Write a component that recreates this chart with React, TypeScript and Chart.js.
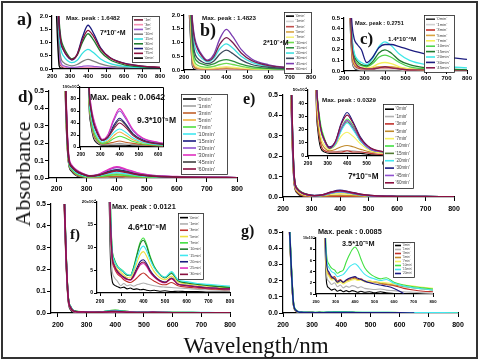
import React, { useEffect, useRef } from "react";
import { Chart, registerables } from "chart.js";

Chart.register(...registerables);
Chart.defaults.font.family = '"Liberation Sans", Arial, sans-serif';

// ---------- wavelength grids (nm) ----------
const WL_MAIN = [222, 230, 240, 250, 265, 285, 310, 340, 370, 400, 430, 470, 520, 600, 700, 800];
const WL_NOISY = [220, 228, 236, 245, 255, 265, 280, 295, 310, 325, 340, 355, 370, 385, 400, 415, 430, 450, 475, 500, 530, 560, 600, 650, 700, 750, 800];

// ---------- tick labels ----------
const X_TICKS = [200, 300, 400, 500, 600, 700, 800];
const X_TICKS_D_INSET = [200, 300, 400, 500, 600];
const X_TICKS_E_INSET = [200, 300, 400, 500, 600];
const Y_TICKS_AB = [0, 0.5, 1, 1.5, 2];
const Y_TICKS_C = [0, 0.1, 0.2, 0.3, 0.4, 0.5];
const Y_TICKS_MAIN_MILLI = [0, 100, 200, 300, 400, 500];
const Y_TICKS_D_INSET = [0, 20, 40, 60, 80, 100];
const Y_TICKS_E_INSET = [0, 10, 20, 30, 40, 50];
const Y_TICKS_F_INSET = [0, 5, 10, 15, 20];
const Y_TICKS_G_INSET = [0, 2, 4, 6, 8, 10];

// ---------- panel a (absorbance) ----------
const A_LABELS = ["'1m'", "'3m'", "'5m'", "'10m'", "'15m'", "'30m'", "'60m'", "'75m'", "'0min'"];
const A_COLORS = ["#7b1b3b", "#f48fb1", "#9b59d0", "#7f7f7f", "#33e0e0", "#1f7a2e", "#1a1a7e", "#8a0f3c", "#000000"];
const A_1m = [3.0, 2.4, 0.45, 0.12, 0.05, 0.03, 0.02, 0.02, 0.02, 0.03, 0.02, 0.02, 0.01, 0.01, 0.01, 0.0];
const A_3m = [3.0, 2.5, 0.55, 0.16, 0.07, 0.05, 0.04, 0.04, 0.05, 0.06, 0.05, 0.04, 0.03, 0.02, 0.01, 0.01];
const A_5m = [3.0, 2.6, 0.7, 0.24, 0.12, 0.08, 0.06, 0.07, 0.1, 0.12, 0.1, 0.07, 0.05, 0.03, 0.02, 0.01];
const A_10m = [3.0, 2.7, 0.95, 0.4, 0.24, 0.16, 0.12, 0.17, 0.29, 0.36, 0.3, 0.19, 0.11, 0.06, 0.03, 0.02];
const A_15m = [3.0, 2.8, 1.3, 0.72, 0.48, 0.32, 0.24, 0.33, 0.6, 0.74, 0.62, 0.38, 0.21, 0.1, 0.05, 0.03];
const A_30m = [3.0, 2.9, 1.8, 1.15, 0.82, 0.56, 0.38, 0.52, 1.02, 1.33, 1.1, 0.66, 0.36, 0.16, 0.08, 0.05];
const A_60m = [3.0, 2.9, 1.6, 0.98, 0.7, 0.48, 0.34, 0.56, 1.22, 1.65, 1.36, 0.8, 0.44, 0.22, 0.11, 0.06];
const A_75m = [3.0, 2.9, 1.6, 1.0, 0.72, 0.5, 0.36, 0.55, 1.12, 1.46, 1.24, 0.76, 0.43, 0.21, 0.11, 0.06];
const A_0min = [2.6, 1.2, 0.12, 0.03, 0.01, 0.01, 0.01, 0.01, 0.01, 0.01, 0.01, 0.01, 0.01, 0.0, 0.0, 0.0];

// ---------- panel b ----------
const B_LABELS = ["'0min'", "'1min'", "'3min'", "'5min'", "'7min'", "'10min'", "'15min'", "'20min'", "'30min'", "'45min'", "'60min'"];
const B_COLORS = ["#000000", "#d0d0d0", "#c0504d", "#d9a441", "#f5f07a", "#6fdc4f", "#2f8f3f", "#3fe0e0", "#3c4a5c", "#7a3bb0", "#7a1f4f"];
const B_0 = [2.6, 1.3, 0.15, 0.04, 0.02, 0.01, 0.01, 0.01, 0.01, 0.01, 0.01, 0.01, 0.01, 0.0, 0.0, 0.0];
const B_1 = [2.8, 1.6, 0.25, 0.07, 0.03, 0.02, 0.02, 0.02, 0.02, 0.02, 0.02, 0.01, 0.01, 0.01, 0.0, 0.0];
const B_3 = [2.9, 1.8, 0.35, 0.1, 0.05, 0.03, 0.03, 0.03, 0.04, 0.05, 0.04, 0.03, 0.02, 0.01, 0.01, 0.0];
const B_5 = [2.9, 2.0, 0.45, 0.14, 0.07, 0.05, 0.04, 0.05, 0.07, 0.08, 0.07, 0.05, 0.03, 0.02, 0.01, 0.01];
const B_7 = [3.0, 2.1, 0.55, 0.2, 0.1, 0.07, 0.06, 0.07, 0.1, 0.12, 0.1, 0.07, 0.04, 0.02, 0.01, 0.01];
const B_10 = [3.0, 2.3, 0.75, 0.3, 0.17, 0.12, 0.1, 0.13, 0.2, 0.24, 0.2, 0.13, 0.07, 0.04, 0.02, 0.01];
const B_15 = [3.0, 2.5, 1.0, 0.48, 0.3, 0.22, 0.17, 0.22, 0.33, 0.38, 0.32, 0.21, 0.12, 0.06, 0.03, 0.02];
const B_20 = [3.0, 2.8, 1.5, 0.9, 0.6, 0.42, 0.3, 0.42, 0.78, 0.95, 0.8, 0.5, 0.28, 0.13, 0.06, 0.04];
const B_30 = [3.0, 2.6, 1.2, 0.65, 0.42, 0.3, 0.23, 0.32, 0.58, 0.72, 0.6, 0.37, 0.2, 0.1, 0.05, 0.03];
const B_45 = [3.0, 2.9, 1.8, 1.2, 0.82, 0.55, 0.36, 0.56, 1.15, 1.48, 1.22, 0.75, 0.4, 0.19, 0.09, 0.06];
const B_60 = [3.0, 2.9, 1.7, 1.1, 0.75, 0.5, 0.33, 0.48, 0.95, 1.18, 1.0, 0.62, 0.34, 0.16, 0.08, 0.05];

// ---------- panel c ----------
const C_LABELS = ["'0min'", "'1min'", "'3min'", "'5min'", "'7min'", "'10min'", "'15min'", "'20min'", "'30min'", "'45min'"];
const C_COLORS = ["#333333", "#d0d0d0", "#c0302a", "#d9a441", "#f5f05a", "#4fd44f", "#1f7a2e", "#40e8e8", "#1c1c80", "#8a2050"];
const C_0 = [0.9, 0.45, 0.1, 0.03, 0.01, 0.0, 0.0, 0.0, 0.0, 0.0, 0.0, 0.0, 0.0, 0.0, 0.0, 0.0];
const C_1 = [0.9, 0.5, 0.12, 0.04, 0.02, 0.01, 0.01, 0.01, 0.01, 0.01, 0.01, 0.01, 0.0, 0.0, 0.0, 0.0];
const C_3 = [0.9, 0.52, 0.14, 0.06, 0.03, 0.02, 0.02, 0.02, 0.03, 0.03, 0.03, 0.02, 0.01, 0.01, 0.0, 0.0];
const C_5 = [0.9, 0.55, 0.16, 0.07, 0.04, 0.03, 0.02, 0.03, 0.04, 0.04, 0.04, 0.03, 0.02, 0.01, 0.01, 0.0];
const C_7 = [0.9, 0.58, 0.2, 0.09, 0.05, 0.03, 0.03, 0.04, 0.07, 0.08, 0.07, 0.04, 0.02, 0.01, 0.01, 0.0];
const C_10 = [0.9, 0.6, 0.24, 0.12, 0.07, 0.05, 0.04, 0.07, 0.13, 0.15, 0.13, 0.08, 0.04, 0.02, 0.01, 0.01];
const C_15 = [0.9, 0.62, 0.28, 0.15, 0.09, 0.06, 0.05, 0.09, 0.17, 0.2, 0.17, 0.1, 0.06, 0.03, 0.02, 0.01];
const C_20 = [0.9, 0.65, 0.3, 0.17, 0.11, 0.08, 0.06, 0.12, 0.23, 0.275, 0.24, 0.16, 0.1, 0.06, 0.04, 0.03];
const C_30 = [0.9, 0.7, 0.42, 0.3, 0.25, 0.2, 0.08, 0.13, 0.22, 0.25, 0.25, 0.23, 0.2, 0.16, 0.13, 0.11];
const C_45 = [0.9, 0.6, 0.22, 0.1, 0.05, 0.03, 0.02, 0.02, 0.03, 0.04, 0.03, 0.02, 0.01, 0.01, 0.0, 0.0];

// ---------- panel d (milli-absorbance) ----------
const D_LABELS = ["'0min'", "'1min'", "'3min'", "'5min'", "'7min'", "'10min'", "'15min'", "'20min'", "'30min'", "'45min'", "'60min'"];
const D_COLORS = ["#000000", "#a0a0a0", "#c0602a", "#f0b040", "#50e040", "#40e8f0", "#1a1a80", "#9050d0", "#e030c0", "#404040", "#8a1040"];
const D_0 = [1200, 450, 90, 40, 15, 6, 3, 3, 3, 3, 3, 2, 2, 1, 1, 1];
const D_1 = [1200, 470, 95, 45, 18, 8, 4, 4, 5, 6, 5, 4, 3, 2, 1, 1];
const D_3 = [1200, 480, 100, 50, 22, 10, 5, 6, 8, 10, 8, 6, 4, 2, 1, 1];
const D_5 = [1300, 500, 100, 55, 28, 14, 7, 10, 19, 25, 20, 12, 7, 4, 2, 1];
const D_7 = [1300, 500, 100, 52, 26, 12, 6, 8, 14, 18, 15, 9, 5, 3, 2, 1];
const D_10 = [1300, 520, 110, 58, 32, 17, 8, 13, 24, 30, 25, 15, 8, 4, 2, 1];
const D_15 = [1400, 550, 120, 65, 40, 22, 11, 17, 36, 48, 39, 22, 12, 6, 3, 2];
const D_20 = [1500, 580, 130, 72, 45, 26, 12, 20, 44, 60, 48, 27, 14, 7, 4, 2];
const D_30 = [1500, 600, 140, 75, 48, 28, 13, 21, 47, 64, 51, 29, 15, 8, 4, 2];
const D_45 = [1400, 560, 120, 68, 42, 24, 11, 17, 33, 45, 37, 21, 11, 6, 3, 2];
const D_60 = [1400, 550, 120, 66, 40, 23, 11, 16, 30, 40, 33, 19, 10, 5, 3, 2];

// ---------- panel e (milli-absorbance) ----------
const E_LABELS = ["'0min'", "'1min'", "'3min'", "'5min'", "'7min'", "'10min'", "'15min'", "'20min'", "'30min'", "'45min'", "'60min'"];
const E_COLORS = ["#000000", "#b0b0b0", "#c0302a", "#c08a2a", "#f5f060", "#40e040", "#507a30", "#40e8f0", "#1a1a80", "#9050d0", "#8a1040"];
const E_0 = [1000, 400, 60, 20, 6, 3, 2, 2, 2, 2, 2, 2, 1, 1, 1, 0];
const E_1 = [1000, 420, 65, 25, 9, 4, 3, 3, 4, 4, 4, 3, 2, 1, 1, 0];
const E_3 = [1000, 420, 65, 25, 9, 4, 3, 3, 3, 4, 3, 3, 2, 1, 1, 0];
const E_5 = [1100, 440, 70, 28, 12, 6, 4, 5, 7, 8, 7, 5, 3, 2, 1, 0];
const E_7 = [1100, 460, 75, 32, 15, 8, 5, 8, 15, 18, 15, 9, 4, 2, 1, 1];
const E_10 = [1200, 500, 90, 42, 24, 13, 6, 10, 21, 28, 23, 12, 5, 3, 2, 1];
const E_15 = [1200, 490, 85, 40, 21, 11, 6, 9, 20, 26, 21, 11, 5, 3, 2, 1];
const E_20 = [1200, 490, 85, 38, 20, 11, 6, 9, 19, 25, 20, 11, 5, 3, 2, 1];
const E_30 = [1300, 520, 90, 40, 21, 12, 7, 11, 25, 32.9, 26, 14, 6, 3, 2, 1];
const E_45 = [1200, 500, 85, 38, 20, 11, 6, 10, 21, 27, 22, 12, 5, 3, 2, 1];
const E_60 = [1300, 520, 90, 40, 21, 12, 6, 11, 24, 31, 25, 13, 6, 3, 2, 1];

// ---------- panel f (milli-absorbance) ----------
const F_LABELS = ["'0min'", "'1min'", "'3min'", "'5min'", "'7min'", "'10min'", "'15min'", "'20min'", "'25min'", "'30min'"];
const F_COLORS = ["#000000", "#b0b0b0", "#c0302a", "#f0e040", "#40e040", "#1f7a2e", "#40e8f0", "#1a1a80", "#e030c0", "#8a1040"];
const F_0 = [600, 260, 60, 14, 3.0, 1.8, 1.4, 1.1, 1.3, 0.9, 1.1, 0.8, 0.9, 0.7, 0.8, 0.6, 0.5, 0.6, 0.4, 0.5, 0.3, 0.4, 0.3, 0.3, 0.2, 0.2, 0.2];
const F_1 = [610, 270, 64, 18, 5.5, 3.5, 2.6, 1.6, 2.1, 1.6, 1.8, 1.5, 1.8, 2.0, 2.2, 2.0, 1.8, 1.6, 1.4, 1.3, 1.2, 1.1, 1.0, 0.8, 0.7, 0.6, 0.5];
const F_3 = [620, 275, 66, 22, 8.0, 5.6, 4.2, 3.6, 2.9, 2.5, 2.3, 2.7, 3.3, 4.0, 4.4, 3.9, 3.2, 2.6, 2.0, 1.8, 2.3, 1.6, 1.3, 1.1, 0.9, 0.8, 0.7];
const F_5 = [640, 285, 70, 25, 9.5, 6.8, 5.2, 4.6, 3.9, 3.4, 3.3, 4.6, 6.6, 8.4, 9.1, 8.1, 6.4, 4.7, 3.4, 2.9, 3.7, 2.4, 2.0, 1.7, 1.5, 1.3, 1.1];
const F_7 = [660, 295, 74, 28, 10.5, 7.6, 6.0, 5.3, 4.7, 4.0, 3.9, 5.7, 8.5, 11.1, 12.1, 10.7, 8.3, 5.9, 4.2, 3.4, 4.5, 2.8, 2.3, 2.0, 1.7, 1.5, 1.3];
const F_10 = [660, 295, 74, 27, 10.2, 7.4, 5.8, 5.1, 4.5, 3.9, 3.8, 5.5, 8.2, 10.7, 11.6, 10.3, 8.0, 5.7, 4.1, 3.3, 4.3, 2.7, 2.2, 1.9, 1.6, 1.4, 1.2];
const F_15 = [650, 290, 72, 27, 10.0, 7.2, 5.8, 5.2, 4.6, 4.1, 3.9, 5.2, 7.5, 9.5, 10.3, 9.3, 7.4, 5.5, 4.1, 3.5, 4.7, 2.9, 2.5, 2.1, 1.9, 1.7, 1.5];
const F_20 = [640, 285, 70, 24, 8.8, 6.2, 4.8, 4.1, 3.5, 3.1, 2.9, 3.9, 5.5, 6.9, 7.3, 6.5, 5.1, 3.8, 2.8, 2.4, 3.3, 2.0, 1.7, 1.4, 1.2, 1.0, 0.9];
const F_25 = [635, 280, 69, 23, 8.5, 6.0, 4.6, 3.9, 3.3, 2.9, 2.8, 3.5, 4.9, 6.1, 6.5, 5.8, 4.6, 3.5, 2.6, 2.2, 3.1, 1.9, 1.6, 1.3, 1.1, 1.0, 0.9];
const F_30 = [638, 282, 70, 23, 8.6, 6.1, 4.7, 4.0, 3.4, 3.0, 2.9, 3.7, 5.1, 6.4, 6.8, 6.1, 4.8, 3.6, 2.7, 2.3, 3.2, 1.9, 1.6, 1.3, 1.1, 1.0, 0.9];

// ---------- panel g (milli-absorbance) ----------
const G_LABELS = ["'0min'", "'1min'", "'3min'", "'5min'", "'7min'", "'10min'", "'15min'", "'20min'"];
const G_COLORS = ["#000000", "#b0b0b0", "#c0302a", "#c08a2a", "#f5f060", "#40e040", "#40e8f0", "#1a1a80"];
const G_0 = [600, 280, 50, 12, 1.8, 1.1, 0.7, 0.9, 0.5, 0.7, 0.4, 0.6, 0.4, 0.6, 0.5, 0.3, 0.5, 0.3, 0.4, 0.2, 0.4, 0.2, 0.1, 0.0, 0.0, 0.0, 0.0];
const G_1 = [605, 285, 52, 13, 3.2, 2.3, 1.7, 2.0, 1.3, 1.6, 1.1, 1.4, 1.2, 1.5, 1.4, 1.1, 1.3, 1.0, 0.9, 0.8, 0.9, 0.7, 0.6, 0.4, 0.3, 0.2, 0.1];
const G_3 = [610, 290, 55, 14, 4.6, 3.7, 2.9, 3.1, 2.3, 2.6, 2.1, 2.5, 2.7, 2.9, 3.0, 2.6, 2.7, 2.3, 2.1, 2.2, 1.9, 1.7, 1.5, 1.0, 0.7, 0.5, 0.4];
const G_5 = [610, 290, 55, 14, 4.3, 3.4, 2.7, 2.9, 2.1, 2.4, 2.0, 2.3, 2.5, 2.7, 2.8, 2.5, 2.6, 2.2, 2.3, 2.1, 1.9, 1.8, 1.6, 1.3, 1.1, 0.9, 0.7];
const G_7 = [608, 288, 54, 13.5, 4.1, 3.2, 2.5, 2.6, 1.9, 2.1, 1.8, 2.1, 2.3, 2.5, 2.6, 2.4, 2.5, 2.2, 2.3, 2.2, 2.1, 2.0, 1.8, 1.6, 1.4, 1.2, 1.0];
const G_10 = [640, 310, 62, 17, 6.8, 5.4, 4.6, 4.3, 3.7, 4.0, 4.3, 5.7, 6.9, 7.9, 8.4, 7.7, 6.3, 4.7, 3.7, 3.1, 2.7, 2.9, 2.1, 1.6, 1.3, 1.1, 0.9];
const G_15 = [630, 300, 60, 16, 6.0, 4.8, 4.0, 3.7, 3.1, 3.3, 3.5, 4.1, 4.8, 5.2, 5.4, 5.0, 4.3, 3.5, 3.0, 2.7, 2.4, 2.6, 1.9, 1.4, 1.1, 0.9, 0.7];
const G_20 = [620, 295, 58, 15, 5.2, 4.0, 3.1, 2.7, 2.1, 2.4, 2.1, 2.5, 2.8, 3.0, 3.1, 2.8, 2.6, 2.3, 2.0, 1.8, 1.6, 1.4, 1.0, 0.1, null, null, null];

// ---------- types ----------
type Series = { labels: string[]; colors: string[]; values: (number | null)[][]; wl: number[] };
type TextItem = { t: string; x: number; y: number; size: number; serif?: boolean };
type Spec = {
  region: [number, number, number, number];
  plot: [number, number, number, number];
  yw: number;
  xh: number;
  x: { min: number; max: number; ticks: number[] };
  y: { min: number; max: number; ticks: number[]; fmt: (v: number) => string };
  series: Series;
  lw: number;
  font: number;
  tickLen: number;
  xPad: number;
  yPad: number;
  box?: boolean;
  topLabel?: string;
  legend?: { x: number; y: number; w: number; h: number; size: number; line: number };
  texts?: TextItem[];
};

const fmt1 = (v: number) => v.toFixed(1);
const fmtMilli = (v: number) => (v / 1000).toFixed(1);
const fmtInset = (max: number) => (v: number) => (v === max ? "" : String(v));

const SER_A: Series = { labels: A_LABELS, colors: A_COLORS, wl: WL_MAIN, values: [A_1m, A_3m, A_5m, A_10m, A_15m, A_30m, A_60m, A_75m, A_0min] };
const SER_B: Series = { labels: B_LABELS, colors: B_COLORS, wl: WL_MAIN, values: [B_0, B_1, B_3, B_5, B_7, B_10, B_15, B_20, B_30, B_45, B_60] };
const SER_C: Series = { labels: C_LABELS, colors: C_COLORS, wl: WL_MAIN, values: [C_0, C_1, C_3, C_5, C_7, C_10, C_15, C_20, C_30, C_45] };
const SER_D: Series = { labels: D_LABELS, colors: D_COLORS, wl: WL_MAIN, values: [D_0, D_1, D_3, D_5, D_7, D_10, D_15, D_20, D_30, D_45, D_60] };
const SER_E: Series = { labels: E_LABELS, colors: E_COLORS, wl: WL_MAIN, values: [E_0, E_1, E_3, E_5, E_7, E_10, E_15, E_20, E_30, E_45, E_60] };
const SER_F: Series = { labels: F_LABELS, colors: F_COLORS, wl: WL_NOISY, values: [F_0, F_1, F_3, F_5, F_7, F_10, F_15, F_20, F_25, F_30] };
const SER_G: Series = { labels: G_LABELS, colors: G_COLORS, wl: WL_NOISY, values: [G_0, G_1, G_3, G_5, G_7, G_10, G_15, G_20] };

const MAIN_SMALL = { yw: 22, xh: 14, font: 6, tickLen: 3, xPad: 1, yPad: 1, lw: 1.3 };
const MAIN_BIG = { yw: 22, xh: 14, font: 7, tickLen: 4, xPad: 4, yPad: 1, lw: 1.5 };
const INSET = { yw: 16, xh: 11, font: 5, tickLen: 3, xPad: 2, yPad: 1, lw: 1.1 };

const SPECS: Spec[] = [
  {
    ...MAIN_SMALL, region: [0, 0, 172, 88], plot: [52, 16, 160, 69],
    x: { min: 200, max: 800, ticks: X_TICKS }, y: { min: 0, max: 2, ticks: Y_TICKS_AB, fmt: fmt1 },
    series: SER_A,
    legend: { x: 132, y: 16, w: 27, h: 46, size: 3.8, line: 9 },
    texts: [
      { t: "a)", x: 17, y: 20, size: 18, serif: true },
      { t: "Max. peak : 1.6482", x: 66, y: 18, size: 6.2 },
      { t: "7*10⁻⁴M", x: 100, y: 33, size: 7 },
    ],
  },
  {
    ...MAIN_SMALL, region: [155, 0, 165, 88], plot: [184, 15, 311, 70],
    x: { min: 200, max: 800, ticks: X_TICKS }, y: { min: 0, max: 2, ticks: Y_TICKS_AB, fmt: fmt1 },
    series: SER_B,
    legend: { x: 284, y: 12, w: 27, h: 61, size: 3.8, line: 8 },
    texts: [
      { t: "b)", x: 200, y: 31, size: 18, serif: true },
      { t: "Max. peak : 1.4823", x: 202, y: 18, size: 6.2 },
      { t: "2*10⁻⁴M", x: 263, y: 43, size: 7 },
    ],
  },
  {
    ...MAIN_SMALL, region: [318, 0, 162, 88], plot: [344, 18, 467, 71],
    x: { min: 200, max: 800, ticks: X_TICKS }, y: { min: 0, max: 0.5, ticks: Y_TICKS_C, fmt: fmt1 },
    series: SER_C,
    legend: { x: 424, y: 15, w: 30, h: 57, size: 4.2, line: 9 },
    texts: [
      { t: "c)", x: 360, y: 40, size: 17, serif: true },
      { t: "Max. peak : 0.2751", x: 355, y: 23, size: 5.6 },
      { t: "1.4*10⁻⁴M", x: 388, y: 39, size: 6.2 },
    ],
  },
  {
    ...MAIN_BIG, region: [0, 80, 250, 120], plot: [49, 91, 237, 178], xPad: 3,
    x: { min: 175, max: 800, ticks: X_TICKS }, y: { min: 0, max: 500, ticks: Y_TICKS_MAIN_MILLI, fmt: fmtMilli },
    series: SER_D,
  },
  {
    ...INSET, region: [0, 80, 250, 120], plot: [80, 87, 163, 147], box: true, topLabel: "100x10⁻³",
    x: { min: 195, max: 625, ticks: X_TICKS_D_INSET }, y: { min: 0, max: 100, ticks: Y_TICKS_D_INSET, fmt: fmtInset(100) },
    series: SER_D,
    legend: { x: 181, y: 94, w: 46, h: 80, size: 5.6, line: 13 },
    texts: [
      { t: "d)", x: 18, y: 98, size: 17, serif: true },
      { t: "Max. peak : 0.0642", x: 90, y: 98, size: 8.6 },
      { t: "9.3*10⁻⁵M", x: 137, y: 121, size: 8.6 },
    ],
  },
  {
    ...MAIN_BIG, region: [240, 85, 240, 135], plot: [283, 95, 454, 197],
    x: { min: 200, max: 800, ticks: X_TICKS }, y: { min: 0, max: 500, ticks: Y_TICKS_MAIN_MILLI, fmt: fmtMilli },
    series: SER_E,
  },
  {
    ...INSET, region: [240, 85, 240, 135], plot: [308, 90, 396, 156], topLabel: "50x10⁻³",
    x: { min: 200, max: 650, ticks: X_TICKS_E_INSET }, y: { min: 0, max: 50, ticks: Y_TICKS_E_INSET, fmt: fmtInset(50) },
    series: SER_E,
    legend: { x: 383, y: 104, w: 30, h: 84, size: 4.6, line: 9 },
    texts: [
      { t: "e)", x: 243, y: 100, size: 16, serif: true },
      { t: "Max. peak : 0.0329", x: 322, y: 100, size: 6.2 },
      { t: "7*10⁻⁵M", x: 348, y: 177, size: 8.2 },
    ],
  },
  {
    ...MAIN_BIG, region: [0, 195, 250, 140], plot: [51, 204, 230, 313],
    x: { min: 176, max: 800, ticks: X_TICKS }, y: { min: 0, max: 500, ticks: Y_TICKS_MAIN_MILLI, fmt: fmtMilli },
    series: SER_F,
  },
  {
    ...INSET, region: [0, 195, 250, 140], plot: [97, 202, 230, 293], xPad: 3, topLabel: "20x10⁻³",
    x: { min: 186, max: 800, ticks: X_TICKS }, y: { min: 0, max: 20, ticks: Y_TICKS_F_INSET, fmt: fmtInset(20) },
    series: SER_F,
    legend: { x: 178, y: 213, w: 25, h: 66, size: 3.8, line: 8 },
    texts: [
      { t: "f)", x: 70, y: 235, size: 15, serif: true },
      { t: "Max. peak : 0.0121", x: 112, y: 207, size: 7.3 },
      { t: "4.6*10⁻⁵M", x: 128, y: 228, size: 8.4 },
    ],
  },
  {
    ...MAIN_BIG, region: [240, 220, 240, 115], plot: [283, 232, 458, 313],
    x: { min: 200, max: 800, ticks: X_TICKS }, y: { min: 0, max: 500, ticks: Y_TICKS_MAIN_MILLI, fmt: fmtMilli },
    series: SER_G,
  },
  {
    ...INSET, region: [240, 220, 240, 115], plot: [316, 238, 433, 294], font: 4.2, topLabel: "10x10⁻³",
    x: { min: 200, max: 800, ticks: X_TICKS }, y: { min: 0, max: 10, ticks: Y_TICKS_G_INSET, fmt: fmtInset(10) },
    series: SER_G,
    legend: { x: 393, y: 242, w: 21, h: 35, size: 3.1, line: 6 },
    texts: [
      { t: "g)", x: 241, y: 232, size: 16, serif: true },
      { t: "Max. peak : 0.0085", x: 318, y: 232, size: 7.3 },
      { t: "3.5*10⁻⁵M", x: 342, y: 244, size: 7.3 },
    ],
  },
];

function makeDeco(spec: Spec) {
  return {
    id: "deco",
    afterDraw(chart: any) {
      const ctx: CanvasRenderingContext2D = chart.ctx;
      const [cx, cy] = spec.region;
      const a = chart.chartArea;
      ctx.save();
      if (spec.box) {
        ctx.strokeStyle = "#000";
        ctx.lineWidth = 1;
        ctx.beginPath();
        ctx.moveTo(a.left, a.top + 0.5);
        ctx.lineTo(a.right + 0.5, a.top + 0.5);
        ctx.lineTo(a.right + 0.5, a.bottom);
        ctx.stroke();
      }
      if (spec.topLabel) {
        ctx.fillStyle = "#000";
        ctx.font = `bold ${spec.font * 0.85}px "Liberation Sans", Arial, sans-serif`;
        ctx.textAlign = "right";
        ctx.textBaseline = "middle";
        ctx.fillText(spec.topLabel, a.left - 1, a.top);
      }
      if (spec.legend) {
        const L = spec.legend;
        const x = L.x - cx;
        const y = L.y - cy;
        ctx.fillStyle = "#fff";
        ctx.fillRect(x, y, L.w, L.h);
        ctx.strokeStyle = "#222";
        ctx.lineWidth = 0.8;
        ctx.strokeRect(x + 0.5, y + 0.5, L.w, L.h);
        const n = spec.series.labels.length;
        const rowH = (L.h - 3) / n;
        ctx.font = `${L.size}px "Liberation Sans", Arial, sans-serif`;
        ctx.textBaseline = "middle";
        ctx.textAlign = "left";
        spec.series.labels.forEach((lab, i) => {
          const yy = y + 1.5 + rowH * (i + 0.5);
          ctx.strokeStyle = spec.series.colors[i];
          ctx.lineWidth = 1.6;
          ctx.beginPath();
          ctx.moveTo(x + 2, yy);
          ctx.lineTo(x + 2 + L.line, yy);
          ctx.stroke();
          ctx.fillStyle = "#444";
          ctx.fillText(lab, x + 3.5 + L.line, yy);
        });
      }
      (spec.texts || []).forEach((tx) => {
        ctx.fillStyle = "#111";
        ctx.textBaseline = "middle";
        ctx.textAlign = "left";
        ctx.font = tx.serif
          ? `bold ${tx.size}px "Liberation Serif", "Times New Roman", serif`
          : `bold ${tx.size}px "Liberation Sans", Arial, sans-serif`;
        ctx.fillText(tx.t, tx.x - cx, tx.y - cy);
      });
      ctx.restore();
    },
  };
}

function buildConfig(spec: Spec): any {
  const [cx, cy, cw, ch] = spec.region;
  const [L, T, R, B] = spec.plot;
  const n = spec.series.labels.length;
  const datasets = spec.series.labels.map((lab, i) => ({
    label: lab,
    data: spec.series.wl.map((w, j) => ({ x: w, y: spec.series.values[i][j] })),
    borderColor: spec.series.colors[i],
    backgroundColor: spec.series.colors[i],
    borderWidth: spec.lw,
    pointRadius: 0,
    fill: false,
    order: n - i,
    cubicInterpolationMode: "monotone",
    spanGaps: false,
  }));
  const tickFont = { size: spec.font, weight: "bold" as const, family: '"Liberation Sans", Arial, sans-serif' };
  const gridOpt = { display: true, drawOnChartArea: false, drawTicks: true, tickLength: spec.tickLen, color: "#000", lineWidth: 1 };
  const borderOpt = { display: true, color: "#000", width: 1.2 };
  return {
    type: "line",
    data: { datasets },
    options: {
      responsive: false,
      maintainAspectRatio: false,
      animation: false,
      devicePixelRatio: 1,
      events: [],
      layout: {
        padding: {
          left: L - cx - spec.yw,
          top: T - cy,
          right: cx + cw - R,
          bottom: cy + ch - B - spec.xh,
        },
      },
      plugins: { legend: { display: false }, tooltip: { enabled: false }, title: { display: false } },
      scales: {
        x: {
          type: "linear",
          min: spec.x.min,
          max: spec.x.max,
          afterBuildTicks: (s: any) => {
            s.ticks = spec.x.ticks.map((v) => ({ value: v }));
          },
          afterFit: (s: any) => {
            s.height = spec.xh;
          },
          ticks: { font: tickFont, color: "#000", padding: spec.xPad, maxRotation: 0, autoSkip: false, callback: (v: number) => String(v) },
          grid: gridOpt,
          border: borderOpt,
        },
        y: {
          type: "linear",
          min: spec.y.min,
          max: spec.y.max,
          afterBuildTicks: (s: any) => {
            s.ticks = spec.y.ticks.map((v) => ({ value: v }));
          },
          afterFit: (s: any) => {
            s.width = spec.yw;
          },
          ticks: { font: tickFont, color: "#000", padding: spec.yPad, autoSkip: false, callback: (v: number) => spec.y.fmt(v) },
          grid: gridOpt,
          border: borderOpt,
        },
      },
    },
    plugins: [makeDeco(spec)],
  };
}

function PanelCanvas({ spec }: { spec: Spec }) {
  const ref = useRef<HTMLCanvasElement | null>(null);
  useEffect(() => {
    if (!ref.current) return;
    const chart = new Chart(ref.current, buildConfig(spec));
    return () => chart.destroy();
  }, [spec]);
  const [cx, cy, cw, ch] = spec.region;
  return (
    <canvas
      ref={ref}
      width={cw}
      height={ch}
      style={{ position: "absolute", left: cx, top: cy, width: cw, height: ch }}
    />
  );
}

export default function App() {
  return (
    <div style={{ position: "absolute", left: 0, top: 0, width: 480, height: 361, background: "#fff", overflow: "hidden" }}>
      <div
        style={{
          position: "absolute",
          left: 1,
          top: 1,
          width: 477,
          height: 358,
          boxSizing: "border-box",
          border: "2px solid #333",
        }}
      />
      {SPECS.map((s, i) => (
        <PanelCanvas key={i} spec={s} />
      ))}
      <div
        style={{
          position: "absolute",
          left: 23,
          top: 174,
          transform: "translate(-50%, -50%) rotate(-90deg)",
          whiteSpace: "nowrap",
          fontFamily: '"Liberation Serif", "Times New Roman", serif',
          fontSize: 22,
          color: "#111",
          lineHeight: 1,
        }}
      >
        Absorbance
      </div>
      <div
        style={{
          position: "absolute",
          left: 256,
          top: 345,
          transform: "translate(-50%, -50%)",
          whiteSpace: "nowrap",
          fontFamily: '"Liberation Serif", "Times New Roman", serif',
          fontSize: 23,
          color: "#111",
          lineHeight: 1,
        }}
      >
        Wavelength/nm
      </div>
    </div>
  );
}
